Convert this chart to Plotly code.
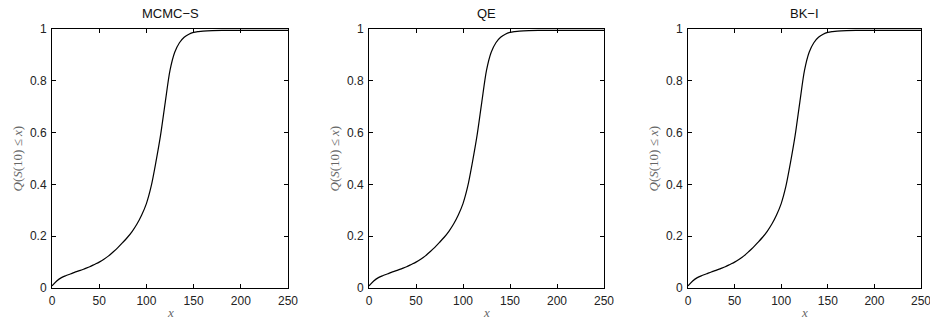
import plotly.graph_objects as go

# Empirical distribution Q(S(10) <= x) estimated by three methods
panel_titles = ["MCMC\u2212S", "QE", "BK\u2212I"]

x_grid = [0, 5, 10, 15, 20, 25, 30, 35, 40, 45, 50, 55, 60, 65, 70, 75, 80,
          85, 90, 95, 100, 105, 110, 115, 120, 125, 130, 135, 140, 145, 150,
          155, 160, 170, 180, 200, 225, 250]

q_mcmc_s = [0.008, 0.027, 0.040, 0.048, 0.055, 0.062, 0.068, 0.075, 0.082,
            0.091, 0.100, 0.111, 0.124, 0.140, 0.157, 0.176, 0.196, 0.219,
            0.247, 0.282, 0.326, 0.392, 0.485, 0.590, 0.718, 0.840, 0.910,
            0.947, 0.968, 0.980, 0.987, 0.990, 0.992, 0.994, 0.995, 0.995,
            0.995, 0.995]
q_qe = [0.008, 0.027, 0.040, 0.048, 0.055, 0.062, 0.068, 0.075, 0.082,
        0.091, 0.100, 0.111, 0.124, 0.140, 0.157, 0.176, 0.196, 0.219,
        0.247, 0.282, 0.326, 0.392, 0.485, 0.590, 0.718, 0.840, 0.910,
        0.947, 0.968, 0.980, 0.987, 0.990, 0.992, 0.994, 0.995, 0.995,
        0.995, 0.995]
q_bk_i = [0.008, 0.027, 0.040, 0.048, 0.055, 0.062, 0.068, 0.075, 0.082,
          0.091, 0.100, 0.111, 0.124, 0.140, 0.157, 0.176, 0.196, 0.219,
          0.247, 0.282, 0.326, 0.392, 0.485, 0.590, 0.718, 0.840, 0.910,
          0.947, 0.968, 0.980, 0.987, 0.990, 0.992, 0.994, 0.995, 0.995,
          0.995, 0.995]

x_ticks = [0, 50, 100, 150, 200, 250]
y_ticks = [0, 0.2, 0.4, 0.6, 0.8, 1]
y_tick_text = ["0", "0.2", "0.4", "0.6", "0.8", "1"]

W, H = 930, 322
# pixel extents of each axes box
x_px = [(52, 288), (369, 604), (688, 921)]
y_top_px, y_bot_px = 29, 288

fig = go.Figure()
series = [q_mcmc_s, q_qe, q_bk_i]
sans = "Liberation Sans, Arial, sans-serif"
serif = "Liberation Serif, DejaVu Serif, serif"

for i, (vals, title) in enumerate(zip(series, panel_titles)):
    n = "" if i == 0 else str(i + 1)
    fig.add_trace(go.Scatter(
        x=x_grid, y=vals, mode="lines",
        line=dict(color="black", width=1.2, shape="spline", smoothing=0.8),
        xaxis="x" + n, yaxis="y" + n, showlegend=False, hoverinfo="skip"))

    x0, x1 = x_px[i]
    axis_common = dict(
        showline=True, linecolor="black", linewidth=1, mirror="ticks",
        ticks="inside", ticklen=4, tickcolor="black", tickwidth=1,
        showgrid=False, zeroline=False, automargin=False,
        ticklabeloverflow="allow",
        tickfont=dict(family=sans, size=12, color="#222"),
    )
    fig.update_layout(**{
        "xaxis" + n: dict(
            domain=[x0 / W, x1 / W], range=[0, 250], anchor="y" + n,
            tickvals=x_ticks, ticklabelstandoff=2, **axis_common),
        "yaxis" + n: dict(
            domain=[(H - y_bot_px) / H, (H - y_top_px) / H], range=[0, 1],
            anchor="x" + n, tickvals=y_ticks, ticktext=y_tick_text,
            ticklabelstandoff=2, **axis_common),
    })

    xc = (x0 + x1) / 2 / W
    fig.add_annotation(
        text=title, x=xc, y=(H - 14) / H, xref="paper", yref="paper",
        showarrow=False, xanchor="center", yanchor="middle",
        font=dict(family=sans, size=13, color="#111"))
    fig.add_annotation(
        text="<i>x</i>", x=xc, y=(H - 312) / H, xref="paper", yref="paper",
        showarrow=False, xanchor="center", yanchor="middle",
        font=dict(family=serif, size=13, color="#666"))
    fig.add_annotation(
        text="<i>Q</i>(<i>S</i>(10) \u2264 <i>x</i>)",
        x=(x0 - 35) / W, y=((H - y_bot_px) + (H - y_top_px)) / 2 / H,
        xref="paper", yref="paper", textangle=-90,
        showarrow=False, xanchor="center", yanchor="middle",
        font=dict(family=serif, size=13, color="#666"))

fig.update_layout(
    template="none",
    width=W, height=H, margin=dict(l=0, r=0, t=0, b=0, pad=0),
    paper_bgcolor="white", plot_bgcolor="white",
)

fig.write_html("out.html")
